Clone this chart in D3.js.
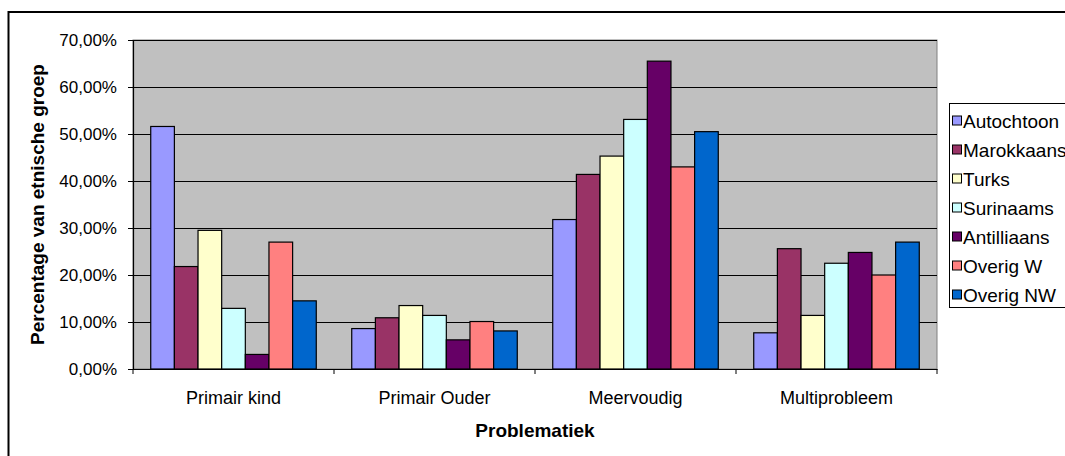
<!DOCTYPE html>
<html>
<head>
<meta charset="utf-8">
<script src="https://cdn.jsdelivr.net/npm/d3@7/dist/d3.min.js"></script>
<style>
  html, body { margin: 0; padding: 0; background: #fff; }
  svg { display: block; font-family: "Liberation Sans", Arial, sans-serif; }
</style>
</head>
<body>
<svg id="chart" width="1065" height="456"></svg>
<script>
const categories = ["Primair kind", "Primair Ouder", "Meervoudig", "Multiprobleem"];
const seriesNames = ["Autochtoon", "Marokkaans", "Turks", "Surinaams", "Antilliaans", "Overig W", "Overig NW"];
const seriesColors = ["#9999FF", "#993366", "#FFFFCC", "#CCFFFF", "#660066", "#FF8080", "#0066CC"];
const autochtoon  = [0.516, 0.086, 0.318, 0.077];
const marokkaans  = [0.218, 0.109, 0.414, 0.256];
const turks       = [0.295, 0.135, 0.453, 0.114];
const surinaams   = [0.129, 0.114, 0.531, 0.225];
const antilliaans = [0.031, 0.062, 0.655, 0.248];
const overigW     = [0.270, 0.101, 0.430, 0.200];
const overigNW    = [0.145, 0.081, 0.505, 0.270];
const yTicks = [0, 0.1, 0.2, 0.3, 0.4, 0.5, 0.6, 0.7];
const yTitle = "Percentage van etnische groep";
const xTitle = "Problematiek";

const seriesValues = [autochtoon, marokkaans, turks, surinaams, antilliaans, overigW, overigNW];
const series = seriesNames.map((name, i) => ({ name, color: seriesColors[i], values: seriesValues[i] }));

const svg = d3.select("#chart");
const plot = { left: 133, right: 937, top: 40, bottom: 369 };

const nl = d3.formatLocale({ decimal: ",", thousands: ".", grouping: [3], currency: ["€", ""] });
const pct = nl.format(".2%");

// outer chart border
svg.append("rect")
  .attr("x", 8.5).attr("y", 12)
  .attr("width", 1100).attr("height", 500)
  .attr("fill", "#fff").attr("stroke", "#000").attr("stroke-width", 2);

const x0 = d3.scaleBand().domain(categories).range([plot.left, plot.right]).paddingInner(0).paddingOuter(0);
const x1 = d3.scaleBand().domain(seriesNames).range([0, x0.bandwidth()]).paddingInner(0).paddingOuter(0.75);
const y = d3.scaleLinear().domain([0, 0.7]).range([plot.bottom, plot.top]);

// plot background
svg.append("rect")
  .attr("x", plot.left).attr("y", plot.top)
  .attr("width", plot.right - plot.left).attr("height", plot.bottom - plot.top)
  .attr("fill", "#C0C0C0").attr("stroke", "#808080").attr("stroke-width", 1);

// gridlines
svg.append("g").selectAll("line").data(yTicks.filter(d => d > 0)).join("line")
  .attr("x1", plot.left).attr("x2", plot.right)
  .attr("y1", d => Math.round(y(d)) + 0.5).attr("y2", d => Math.round(y(d)) + 0.5)
  .attr("stroke", "#000").attr("stroke-width", 1);

// bars
const groups = svg.append("g").selectAll("g").data(series).join("g")
  .attr("fill", d => d.color);
groups.selectAll("rect").data(d => d.values.map((v, i) => ({ cat: categories[i], v, name: d.name }))).join("rect")
  .attr("x", d => x0(d.cat) + x1(d.name))
  .attr("y", d => y(d.v))
  .attr("width", x1.bandwidth())
  .attr("height", d => y(0) - y(d.v))
  .attr("stroke", "#000").attr("stroke-width", 1.2);

// y axis
const yAxis = d3.axisLeft(y).tickValues(yTicks).tickFormat(pct).tickSize(5).tickPadding(11);
const gy = svg.append("g").attr("transform", `translate(${plot.left},0)`).call(yAxis);
gy.select(".domain").attr("stroke", "#000").attr("stroke-width", 1.2);
gy.selectAll(".tick line").attr("stroke", "#000");
gy.selectAll("text").attr("font-size", 17).attr("fill", "#000").attr("font-family", "Liberation Sans, Arial, sans-serif");

// x axis: labels at centers
const xAxis = d3.axisBottom(x0).tickSize(0).tickPadding(22);
const gx = svg.append("g").attr("transform", `translate(0,${plot.bottom})`).call(xAxis);
gx.select(".domain").attr("stroke", "#000").attr("stroke-width", 1.2);
gx.selectAll("text").attr("font-size", 18).attr("fill", "#000").attr("font-family", "Liberation Sans, Arial, sans-serif");

// x boundary ticks
const bounds = categories.map(c => x0(c)).concat([x0(categories[categories.length - 1]) + x0.bandwidth()]);
svg.append("g").selectAll("line").data(bounds).join("line")
  .attr("x1", d => d).attr("x2", d => d)
  .attr("y1", plot.bottom).attr("y2", plot.bottom + 5)
  .attr("stroke", "#000").attr("stroke-width", 1);

// axis titles
svg.append("text")
  .attr("x", (plot.left + plot.right) / 2).attr("y", 437)
  .attr("text-anchor", "middle").attr("font-weight", "bold").attr("font-size", 19)
  .text(xTitle);
svg.append("text")
  .attr("transform", `translate(44,${(plot.top + plot.bottom) / 2}) rotate(-90)`)
  .attr("text-anchor", "middle").attr("font-weight", "bold").attr("font-size", 19)
  .text(yTitle);

// legend
const legend = svg.append("g");
legend.append("rect")
  .attr("x", 949.5).attr("y", 103.5).attr("width", 200).attr("height", 204)
  .attr("fill", "#fff").attr("stroke", "#000").attr("stroke-width", 1);
const items = legend.selectAll("g.item").data(series).join("g")
  .attr("class", "item")
  .attr("transform", (d, i) => `translate(0,${120.5 + i * 29})`);
items.append("rect")
  .attr("x", 952.5).attr("y", -4.5).attr("width", 9).attr("height", 9)
  .attr("fill", d => d.color).attr("stroke", "#000").attr("stroke-width", 1);
items.append("text")
  .attr("x", 963).attr("y", 7)
  .attr("font-size", 19).attr("fill", "#000")
  .text(d => d.name);
</script>
</body>
</html>
